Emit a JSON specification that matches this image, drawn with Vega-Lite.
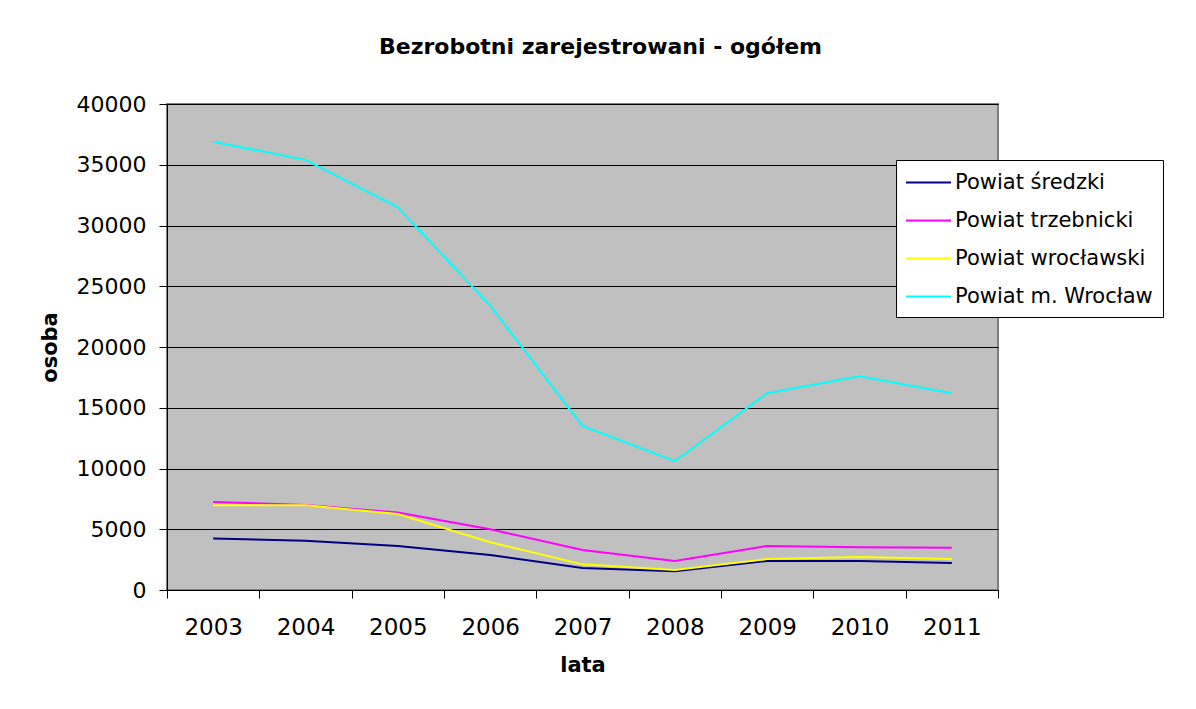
{
  "$schema": "https://vega.github.io/schema/vega-lite/v6.json",
  "width": 831,
  "height": 486,
  "autosize": {"type": "none"},
  "padding": {"left": 167, "top": 104, "right": 198, "bottom": 119},
  "background": "white",
  "title": {
    "text": "Bezrobotni zarejestrowani - ogółem",
    "font": "DejaVu Sans",
    "fontSize": 22,
    "fontWeight": "bold",
    "color": "black",
    "anchor": "middle",
    "frame": "group",
    "baseline": "alphabetic",
    "offset": 17,
    "dx": 18
  },
  "data": {
    "values": [
      {"rok": "2003", "powiat": "Powiat średzki", "osoby": 4230},
      {"rok": "2004", "powiat": "Powiat średzki", "osoby": 4060},
      {"rok": "2005", "powiat": "Powiat średzki", "osoby": 3620},
      {"rok": "2006", "powiat": "Powiat średzki", "osoby": 2880},
      {"rok": "2007", "powiat": "Powiat średzki", "osoby": 1810},
      {"rok": "2008", "powiat": "Powiat średzki", "osoby": 1540},
      {"rok": "2009", "powiat": "Powiat średzki", "osoby": 2390},
      {"rok": "2010", "powiat": "Powiat średzki", "osoby": 2390},
      {"rok": "2011", "powiat": "Powiat średzki", "osoby": 2220},
      {"rok": "2003", "powiat": "Powiat trzebnicki", "osoby": 7250},
      {"rok": "2004", "powiat": "Powiat trzebnicki", "osoby": 7000},
      {"rok": "2005", "powiat": "Powiat trzebnicki", "osoby": 6370},
      {"rok": "2006", "powiat": "Powiat trzebnicki", "osoby": 5000},
      {"rok": "2007", "powiat": "Powiat trzebnicki", "osoby": 3300},
      {"rok": "2008", "powiat": "Powiat trzebnicki", "osoby": 2390},
      {"rok": "2009", "powiat": "Powiat trzebnicki", "osoby": 3620},
      {"rok": "2010", "powiat": "Powiat trzebnicki", "osoby": 3510},
      {"rok": "2011", "powiat": "Powiat trzebnicki", "osoby": 3480},
      {"rok": "2003", "powiat": "Powiat wrocławski", "osoby": 6970},
      {"rok": "2004", "powiat": "Powiat wrocławski", "osoby": 6970},
      {"rok": "2005", "powiat": "Powiat wrocławski", "osoby": 6260},
      {"rok": "2006", "powiat": "Powiat wrocławski", "osoby": 3930},
      {"rok": "2007", "powiat": "Powiat wrocławski", "osoby": 2110},
      {"rok": "2008", "powiat": "Powiat wrocławski", "osoby": 1650},
      {"rok": "2009", "powiat": "Powiat wrocławski", "osoby": 2550},
      {"rok": "2010", "powiat": "Powiat wrocławski", "osoby": 2720},
      {"rok": "2011", "powiat": "Powiat wrocławski", "osoby": 2550},
      {"rok": "2003", "powiat": "Powiat m. Wrocław", "osoby": 36900},
      {"rok": "2004", "powiat": "Powiat m. Wrocław", "osoby": 35400},
      {"rok": "2005", "powiat": "Powiat m. Wrocław", "osoby": 31500},
      {"rok": "2006", "powiat": "Powiat m. Wrocław", "osoby": 23400},
      {"rok": "2007", "powiat": "Powiat m. Wrocław", "osoby": 13500},
      {"rok": "2008", "powiat": "Powiat m. Wrocław", "osoby": 10600},
      {"rok": "2009", "powiat": "Powiat m. Wrocław", "osoby": 16200},
      {"rok": "2010", "powiat": "Powiat m. Wrocław", "osoby": 17600},
      {"rok": "2011", "powiat": "Powiat m. Wrocław", "osoby": 16200}
    ]
  },
  "mark": {"type": "line", "strokeWidth": 2},
  "encoding": {
    "x": {
      "field": "rok",
      "type": "ordinal",
      "scale": {"type": "band", "paddingInner": 0, "paddingOuter": 0},
      "axis": {
        "title": "lata",
        "tickBand": "extent",
        "labelAngle": 0,
        "grid": false,
        "domainColor": "black",
        "domainWidth": 1,
        "tickColor": "black",
        "tickSize": 8,
        "labelFont": "DejaVu Sans",
        "labelFontSize": 23,
        "labelColor": "black",
        "labelPadding": 18,
        "titleFont": "DejaVu Sans",
        "titleFontSize": 21,
        "titleFontWeight": "bold",
        "titleColor": "black",
        "titlePadding": 15
      }
    },
    "y": {
      "field": "osoby",
      "type": "quantitative",
      "scale": {"domain": [0, 40000], "nice": false},
      "axis": {
        "title": "osoba",
        "values": [0, 5000, 10000, 15000, 20000, 25000, 30000, 35000, 40000],
        "format": "d",
        "grid": true,
        "gridColor": "black",
        "gridOpacity": 1,
        "gridWidth": 1,
        "domainColor": "black",
        "domainWidth": 1,
        "tickColor": "black",
        "tickSize": 8,
        "labelFont": "DejaVu Sans",
        "labelFontSize": 22,
        "labelColor": "black",
        "labelPadding": 13,
        "titleFont": "DejaVu Sans",
        "titleFontSize": 21,
        "titleFontWeight": "bold",
        "titleColor": "black",
        "titlePadding": 16
      }
    },
    "color": {
      "field": "powiat",
      "type": "nominal",
      "scale": {
        "domain": ["Powiat średzki", "Powiat trzebnicki", "Powiat wrocławski", "Powiat m. Wrocław"],
        "range": ["#000080", "#FF00FF", "#FFFF00", "#00FFFF"]
      },
      "legend": {
        "title": null,
        "orient": "none",
        "legendX": 729,
        "legendY": 56,
        "fillColor": "white",
        "strokeColor": "black",
        "padding": 10,
        "symbolType": "M-2,0H2",
        "symbolSize": 506,
        "symbolStrokeWidth": 2,
        "symbolOffset": 10,
        "labelFont": "DejaVu Sans",
        "labelFontSize": 21,
        "labelColor": "black",
        "labelOffset": 14,
        "labelLimit": 400,
        "rowPadding": 15
      }
    }
  },
  "config": {
    "view": {"fill": "#C0C0C0", "stroke": "#808080", "strokeWidth": 2}
  }
}
